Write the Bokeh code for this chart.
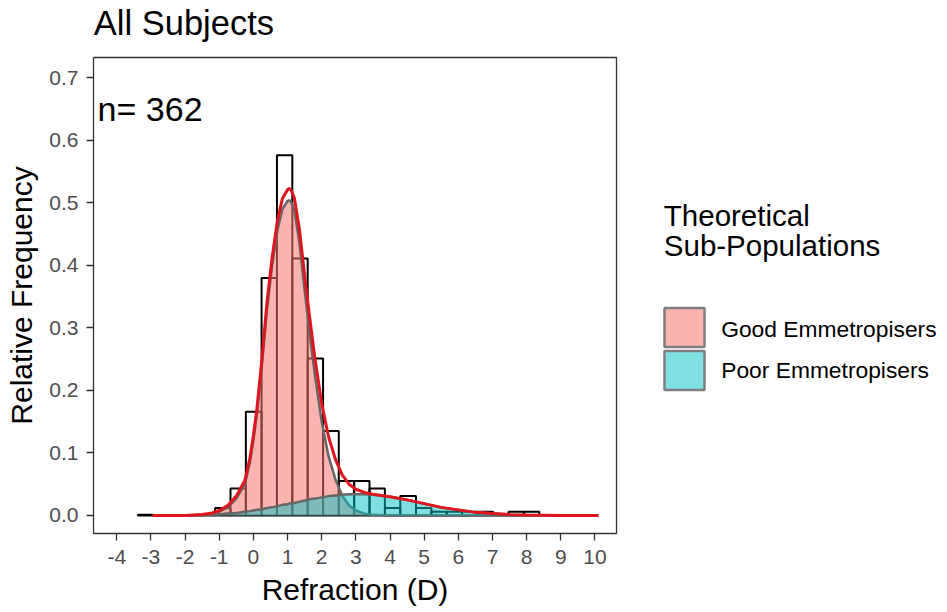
from bokeh.plotting import figure
from bokeh.layouts import row, column
from bokeh.models import FixedTicker, Range1d, Label, NumeralTickFormatter
from bokeh.embed import file_html
from bokeh.resources import INLINE
from bokeh.core.properties import value

# ---------------- data ----------------
n_subjects = 362
title_text = "All Subjects"
x_title = "Refraction (D)"
y_title = "Relative Frequency"
legend_title = ["Theoretical", "Sub-Populations"]
legend_labels = ["Good Emmetropisers", "Poor Emmetropisers"]

bin_edges = [-3.38, -2.93, -2.48, -2.02, -1.57, -1.12, -0.67, -0.22, 0.24, 0.69,
             1.14, 1.59, 2.04, 2.50, 2.95, 3.40, 3.85, 4.30, 4.76, 5.21,
             5.66, 6.11, 6.56, 7.02, 7.47, 7.92, 8.37]
rel_freq = [0.001, 0.0, 0.0, 0.0, 0.0, 0.012, 0.043, 0.166, 0.380, 0.576,
            0.411, 0.251, 0.135, 0.055, 0.055, 0.043, 0.012, 0.031, 0.012, 0.006,
            0.006, 0.006, 0.006, 0.0, 0.006, 0.006]

curve_x = [-2.95, -2.0, -1.5, -1.2, -1.0, -0.75, -0.5, -0.25, -0.1, 0.0,
           0.1, 0.25, 0.4, 0.55, 0.7, 0.85, 1.0, 1.05, 1.1, 1.2,
           1.35, 1.5, 1.65, 1.8, 2.0, 2.2, 2.4, 2.6, 2.8, 3.0,
           3.25, 3.5, 4.0, 4.5, 5.0, 5.5, 6.0, 6.5, 7.0, 7.5,
           8.0, 9.0, 10.1]
good_density = [0, 0, 0.001, 0.003, 0.006, 0.013, 0.027, 0.050, 0.085, 0.120,
                0.160, 0.240, 0.330, 0.400, 0.455, 0.490, 0.503, 0.504, 0.502, 0.488,
                0.435, 0.360, 0.290, 0.225, 0.150, 0.095, 0.058, 0.032, 0.016, 0.008,
                0.003, 0.001, 0, 0, 0, 0, 0, 0, 0, 0,
                0, 0, 0]
poor_density = [0, 0, 0.0005, 0.001, 0.002, 0.003, 0.004, 0.006, 0.007, 0.008,
                0.009, 0.010, 0.012, 0.013, 0.015, 0.017, 0.018, 0.019, 0.019, 0.020,
                0.022, 0.024, 0.026, 0.027, 0.029, 0.031, 0.032, 0.033, 0.034, 0.034,
                0.034, 0.033, 0.030, 0.025, 0.019, 0.013, 0.009, 0.005, 0.003, 0.0015,
                0.0007, 0.0001, 0]
total_density = [0, 0, 0.0015, 0.004, 0.008, 0.016, 0.031, 0.056, 0.092, 0.128,
                 0.169, 0.250, 0.342, 0.413, 0.470, 0.507, 0.521, 0.523, 0.521, 0.508,
                 0.457, 0.384, 0.316, 0.252, 0.179, 0.126, 0.090, 0.065, 0.050, 0.042,
                 0.037, 0.034, 0.030, 0.025, 0.019, 0.013, 0.009, 0.005, 0.003, 0.0015,
                 0.0007, 0.0001, 0]

x_ticks = [-4, -3, -2, -1, 0, 1, 2, 3, 4, 5, 6, 7, 8, 9, 10]
x_tick_labels = ["-4", "-3", "-2", "-1", "0", "1", "2", "3", "4", "5", "6", "7", "8", "9", "10"]
y_ticks = [0.0, 0.1, 0.2, 0.3, 0.4, 0.5, 0.6, 0.7]

# ---------------- styling ----------------
FONT = "Liberation Sans"
PINK = "#F8766D"
CYAN = "#00BFC4"
OUTLINE = "#666666"
RED = "#E0161E"
TOP_H = 50          # height of the title strip (page pixels)
MAIN_W = 632        # width of the main panel figure
LEG_W = 312         # width of the legend figure

# ---------------- title strip ----------------
t = figure(width=MAIN_W + LEG_W, height=TOP_H, x_range=Range1d(0, MAIN_W + LEG_W),
           y_range=Range1d(TOP_H, 0),
           output_backend="svg", toolbar_location=None, title=None,
           min_border=0, x_axis_type=None, y_axis_type=None, frame_align=False)
t.outline_line_color = None
t.xgrid.visible = False
t.ygrid.visible = False
t.text(x=[93.3], y=[22.0], text=[title_text], text_font=value(FONT),
       text_font_size="34.5px", text_baseline="middle", text_align="left", text_color="black")

# ---------------- main panel ----------------
p = figure(frame_width=523, frame_height=476,
           x_range=Range1d(-4.68, 10.63), y_range=Range1d(-0.0288, 0.7325),
           output_backend="svg", toolbar_location=None, title=None,
           min_border_left=93, min_border_right=MAIN_W - 93 - 523, min_border_top=57 - TOP_H,
           min_border_bottom=60)
p.background_fill_color = "white"
p.border_fill_color = "white"
p.outline_line_color = "#333333"
p.outline_line_width = 1.3
p.xgrid.visible = False
p.ygrid.visible = False

# histogram
p.quad(left=bin_edges[:-1], right=bin_edges[1:], top=rel_freq, bottom=0,
       fill_color="white", fill_alpha=0.0, line_color="black", line_width=2)

# good emmetropisers area
p.varea(x=curve_x, y1=0, y2=good_density, fill_color=PINK, fill_alpha=0.55)
p.line(x=curve_x, y=good_density, line_color=OUTLINE, line_width=2.5)
# poor emmetropisers area
p.varea(x=curve_x, y1=0, y2=poor_density, fill_color=CYAN, fill_alpha=0.5)
p.line(x=curve_x, y=poor_density, line_color=OUTLINE, line_width=2.5)
# total mixture
p.line(x=curve_x, y=total_density, line_color=RED, line_width=3)

# axes
p.xaxis.ticker = FixedTicker(ticks=x_ticks)
p.xaxis.major_label_overrides = {t_: l for t_, l in zip(x_ticks, x_tick_labels)}
p.yaxis.ticker = FixedTicker(ticks=y_ticks)
p.yaxis.formatter = NumeralTickFormatter(format="0.0")
for ax in (p.xaxis, p.yaxis):
    ax.axis_line_color = None
    ax.major_tick_line_color = "#333333"
    ax.major_tick_line_width = 1.3
    ax.major_tick_in = 0
    ax.major_tick_out = 7
    ax.minor_tick_line_color = None
    ax.major_label_text_font = FONT
    ax.major_label_text_font_size = "21px"
    ax.major_label_text_color = "#4D4D4D"
    ax.axis_label_text_font = FONT
    ax.axis_label_text_font_size = "30px"
    ax.axis_label_text_font_style = "normal"
    ax.axis_label_text_color = "black"
p.xaxis.axis_label = x_title
p.yaxis.axis_label = y_title
p.xaxis.major_label_standoff = 9
p.yaxis.major_label_standoff = 8
p.xaxis.axis_label_standoff = 6
p.yaxis.axis_label_standoff = 8

# n label (vertically centred on the capitals)
p.add_layout(Label(x=-4.56, y=0.650, text=f"n= {n_subjects}", text_font=FONT,
                   text_font_size="34px", text_baseline="middle", text_align="left",
                   text_color="black"))

# ---------------- legend panel (page-pixel coordinates) ----------------
q_h = 554
q = figure(width=LEG_W, height=q_h, x_range=Range1d(0, LEG_W), y_range=Range1d(TOP_H + q_h, TOP_H),
           output_backend="svg", toolbar_location=None, title=None,
           min_border=0, x_axis_type=None, y_axis_type=None, frame_align=False)
q.outline_line_color = None
q.xgrid.visible = False
q.ygrid.visible = False
q.background_fill_color = "white"
q.border_fill_color = "white"

q.text(x=[31.3, 31.3], y=[215, 244.5], text=legend_title, text_font=value(FONT),
       text_font_size="29.5px", text_baseline="middle", text_align="left", text_color="black")
q.quad(left=[32, 32], right=[72, 72], top=[307.5, 350.5], bottom=[346.5, 389.5],
       fill_color=[PINK, CYAN], fill_alpha=[0.55, 0.5], line_color="#7f7f7f", line_width=2.5)
q.text(x=[88.7, 88.7], y=[328.3, 369.5], text=legend_labels, text_font=value(FONT),
       text_font_size="22.8px", text_baseline="middle", text_align="left", text_color="black")

layout = column(t, row(p, q))
open("out.html", "w").write(file_html(layout, INLINE))
